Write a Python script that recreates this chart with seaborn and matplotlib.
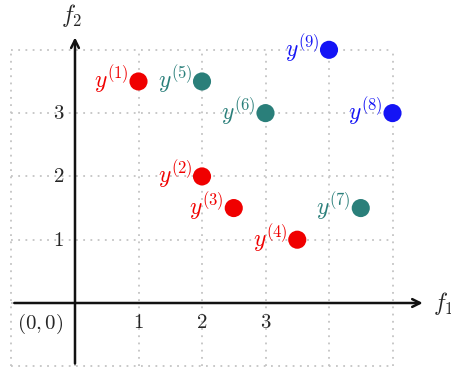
import matplotlib
matplotlib.use("Agg")
import matplotlib.pyplot as plt
import pandas as pd
import seaborn as sns

# points of the objective space
f1 = [1, 2, 2.5, 3.5, 2, 3, 4.5, 5, 4]
f2 = [3.5, 2, 1.5, 1, 3.5, 3, 1.5, 3, 4]
names = ["1", "2", "3", "4", "5", "6", "7", "8", "9"]
group = ["red", "red", "red", "red", "teal", "teal", "teal", "blue", "blue"]

grid_x = [-1, 0, 1, 2, 3, 4, 5]
grid_y = [-1, 0, 1, 2, 3, 4]
tick_vals = [1, 2, 3]

palette = {"red": "#f00000", "teal": "#2a7f7a", "blue": "#1414f5"}

df = pd.DataFrame({"f1": f1, "f2": f2, "name": names, "group": group})

sns.set_style("white")
plt.rcParams["mathtext.fontset"] = "cm"

fig = plt.figure(figsize=(4.51, 3.72), dpi=100)
ax = fig.add_axes([0, 0, 1, 1])
ax.set_xlim(-1.181, 5.921)
ax.set_ylim(-1.09, 4.787)
ax.axis("off")

# dotted grid
ax.vlines(grid_x, min(grid_y), max(grid_y), colors="#c4c4c4",
          linestyles=(0, (1, 3)), linewidth=1.3, zorder=0)
ax.hlines(grid_y, min(grid_x), max(grid_x), colors="#c4c4c4",
          linestyles=(0, (1, 3)), linewidth=1.3, zorder=0)

# axes with arrows
ax.annotate("", xy=(5.52, 0), xytext=(-1, 0),
            arrowprops=dict(arrowstyle="->", lw=1.8, color="#111111",
                            mutation_scale=14))
ax.annotate("", xy=(0, 4.24), xytext=(0, -1),
            arrowprops=dict(arrowstyle="->", lw=1.8, color="#111111",
                            mutation_scale=14))
ax.text(5.64, 0, "$f_1$", fontsize=17, ha="left", va="center")
ax.text(-0.05, 4.55, "$f_2$", fontsize=17, ha="center", va="center")

for v in tick_vals:
    ax.text(v, -0.3, f"${v}$", fontsize=15, ha="center", va="center")
    ax.text(-0.17, v, f"${v}$", fontsize=15, ha="right", va="center")
ax.text(-0.55, -0.33, "$(0,0)$", fontsize=15, ha="center", va="center")

sns.scatterplot(data=df, x="f1", y="f2", hue="group", palette=palette,
                s=170, edgecolor="none", legend=False, ax=ax, zorder=3)

for _, row in df.iterrows():
    ax.annotate(f"$y^{{({row['name']})}}$", (row["f1"], row["f2"]),
                xytext=(-7, 1), textcoords="offset points",
                ha="right", va="center", fontsize=17,
                color=palette[row["group"]])

ax.set_xlim(-1.181, 5.921)
ax.set_ylim(-1.09, 4.787)
fig.savefig("out.png", dpi=100)
